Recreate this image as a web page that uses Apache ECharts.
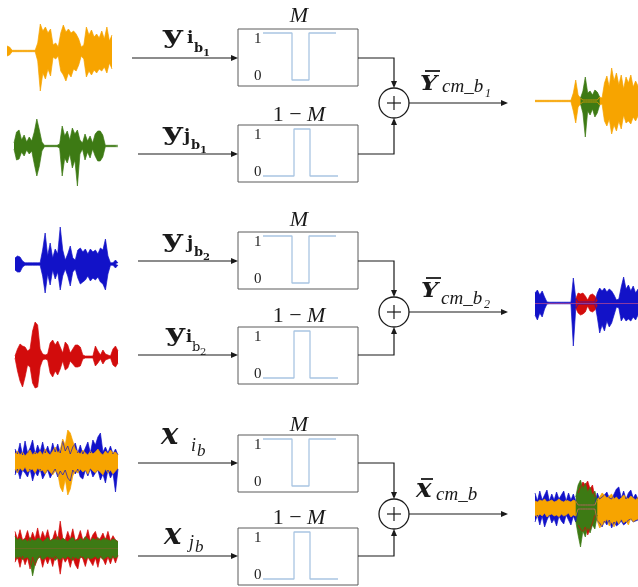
<!DOCTYPE html>
<html>
<head>
<meta charset="utf-8">
<script src="https://cdn.jsdelivr.net/npm/echarts@6/dist/echarts.min.js"></script>
<style>
  html, body { margin: 0; padding: 0; background: #fff; }
  #chart { width: 638px; height: 587px; }
</style>
</head>
<body>
<div id="chart"></div>
<script>
// input waveforms: upper / lower envelope (amplitude in px)
const orangeTop1 = [5,4,0.7,0.7,0.7,0.7,0.7,0.7,0.7,0.7,0.7,0.7,8,27,20,24,18,22,6,8,4,18,26,19,22,18,20,17,12,4,6,24,16,21,14,17,13,20,12,24,10,16];
const orangeBot1 = [-5,-4,-0.7,-0.7,-0.7,-0.7,-0.7,-0.7,-0.7,-0.7,-0.7,-0.7,-10,-40,-22,-28,-18,-25,-6,-8,-5,-20,-24,-30,-22,-26,-18,-20,-14,-5,-8,-26,-20,-24,-19,-22,-18,-20,-16,-22,-12,-18];
const greenTop1 = [3,14,16,6,11,4,9,5,14,27,16,4,0.7,0.7,0.7,0.7,0.7,0.7,2,20,10,15,6,18,12,16,6,3,12,5,10,3,12,15,15,11,0.7,0.7,0.7,0.7,0.7,0.7];
const greenBot1 = [-3,-14,-13,-6,-10,-4,-8,-5,-18,-30,-20,-5,-0.7,-0.7,-0.7,-0.7,-0.7,-0.7,-2,-30,-12,-17,-8,-22,-14,-40,-8,-3,-14,-6,-12,-3,-10,-15,-15,-11,-0.7,-0.7,-0.7,-0.7,-0.7,-0.7];
const blueTop2 = [6,8,7,3,1.2,1.2,1.2,1.2,1.2,1.2,1.2,14,31,8,21,6,15,10,37,14,4,10,18,6,4,14,16,12,15,10,15,12,14,10,16,14,25,8,1.2,1.2,4,1];
const blueBot2 = [-6,-8,-8,-3,-1.2,-1.2,-1.2,-1.2,-1.2,-1.2,-1.2,-12,-29,-10,-21,-6,-15,-8,-26,-12,-5,-12,-22,-8,-5,-14,-20,-18,-16,-12,-17,-14,-16,-13,-18,-20,-26,-10,-1.2,-1.2,-4,-1];
const redTop2 = [1,8,13,11,10,6,8,26,35,32,8,3,2,3,14,17,12,16,10,4,15,12,4,8,12,12,10,2,1,1,1,1,11,6,2,7,3,2,1,8,11,6];
const redBot2 = [-1,-14,-24,-30,-20,-8,-10,-26,-31,-30,-10,-3,-2,-3,-16,-20,-14,-18,-12,-4,-13,-11,-4,-7,-10,-10,-9,-2,-1,-1,-1,-1,-9,-6,-2,-7,-3,-2,-1,-8,-10,-6];
const mixBlueTop3 = [12,7,18,6,20,8,13,21,7,16,9,19,8,15,7,18,9,17,8,20,10,15,7,14,18,8,16,7,13,19,8,21,16,24,28,9,14,8,15,7,12,6];
const mixBlueBot3 = [-14,-8,-18,-9,-12,-16,-8,-20,-11,-15,-8,-18,-13,-9,-17,-12,-8,-16,-10,-14,-9,-17,-20,-9,-13,-8,-16,-18,-9,-15,-8,-16,-12,-9,-19,-13,-22,-9,-17,-12,-31,-8];
const mixOrangeTop3 = [7,10,6,9,5,8,11,6,9,7,10,6,12,8,6,10,14,8,11,22,16,31,28,20,12,9,7,11,8,6,10,7,9,12,8,6,10,7,11,8,9,6];
const mixOrangeBot3 = [-8,-12,-7,-10,-6,-11,-9,-8,-12,-7,-10,-9,-13,-8,-11,-14,-10,-12,-26,-31,-18,-34,-28,-15,-10,-12,-8,-11,-9,-13,-7,-10,-12,-9,-11,-14,-8,-12,-9,-13,-10,-7];
const mixRedTop3 = [20,11,22,10,12,21,9,19,11,24,10,20,12,22,9,11,21,10,32,12,10,20,11,23,9,12,21,10,11,22,9,16,20,10,12,18,10,20,9,15,10,8];
const mixRedBot3 = [-16,-10,-22,-9,-19,-11,-24,-10,-20,-12,-9,-22,-11,-18,-10,-21,-9,-12,-30,-10,-16,-11,-22,-10,-19,-24,-9,-12,-21,-10,-15,-20,-11,-22,-9,-12,-19,-10,-18,-9,-17,-8];
const mixGreenTop3 = [14,10,12,9,11,8,13,10,9,12,11,8,10,13,9,11,10,14,9,12,10,8,11,13,10,9,12,10,14,11,9,12,10,13,9,11,12,10,9,11,10,8];
const mixGreenBot3 = [-10,-12,-9,-13,-11,-10,-14,-32,-18,-12,-10,-13,-11,-9,-12,-10,-14,-11,-13,-10,-12,-9,-11,-14,-10,-12,-11,-9,-13,-10,-12,-11,-9,-12,-10,-13,-11,-9,-12,-10,-11,-9];

// mixed outputs
const outOrangeTop1 = [0.7,0.7,0.7,0.7,0.7,0.7,0.7,0.7,0.7,0.7,0.7,0.7,0.7,0.7,0.7,0.7,8,21,6,3,1,1,1,1,1,1,1,4,3,18,25,14,33,20,28,16,26,12,24,18,26,14,20,15];
const outOrangeBot1 = [-0.7,-0.7,-0.7,-0.7,-0.7,-0.7,-0.7,-0.7,-0.7,-0.7,-0.7,-0.7,-0.7,-0.7,-0.7,-0.7,-10,-22,-6,-3,-1,-1,-1,-1,-1,-1,-1,-4,-3,-20,-25,-18,-33,-24,-30,-20,-28,-14,-22,-20,-23,-16,-20,-15];
const outGreenTop1 = [null,null,null,null,null,null,null,null,null,null,null,null,null,null,null,null,null,null,null,3,10,24,8,10,6,11,9,4,null,null,null,null,null,null,null,null,null,null,null,null,null,null,null,null];
const outGreenBot1 = [null,null,null,null,null,null,null,null,null,null,null,null,null,null,null,null,null,null,null,-3,-12,-36,-10,-14,-8,-16,-12,-4,null,null,null,null,null,null,null,null,null,null,null,null,null,null,null,null];
const outBlueTop2 = [10,13,8,12,6,1,0.8,0.8,0.8,0.8,0.8,0.8,0.8,0.8,0.8,0.8,25,5,1,1,1,1,1,1,1,1,10,15,12,15,11,14,12,8,3,4,16,26,14,18,12,17,10,14];
const outBlueBot2 = [-12,-17,-10,-14,-6,-1,-0.8,-0.8,-0.8,-0.8,-0.8,-0.8,-0.8,-0.8,-0.8,-0.8,-43,-6,-1,-1,-1,-1,-1,-1,-1,-1,-14,-30,-22,-28,-18,-24,-20,-12,-4,-5,-18,-14,-18,-16,-18,-14,-17,-12];
const outRedTop2 = [null,null,null,null,null,null,null,null,null,null,null,null,null,null,null,null,null,4,10,9,10,7,3,8,9,7,2,null,null,null,null,null,null,null,null,null,null,null,null,null,null,null,null,null];
const outRedBot2 = [null,null,null,null,null,null,null,null,null,null,null,null,null,null,null,null,null,-5,-10,-12,-11,-9,-3,-8,-9,-7,-2,null,null,null,null,null,null,null,null,null,null,null,null,null,null,null,null,null];
const outBlueTop3 = [14,6,16,7,12,17,6,13,7,15,8,12,16,6,14,7,13,6,2,2,2,2,2,2,2,2,14,8,10,12,15,9,8,13,18,20,9,16,8,14,17,9,13,8];
const outBlueBot3 = [-15,-8,-18,-9,-20,-13,-8,-16,-12,-19,-9,-14,-17,-8,-13,-18,-9,-15,-2,-2,-2,-2,-2,-2,-2,-2,-14,-16,-20,-14,-18,-13,-21,-15,-19,-17,-14,-18,-16,-13,-12,-15,-14,-13];
const outOrangeTop3 = [6,5,7,6,8,5,6,7,5,6,8,6,5,7,6,5,7,6,2,2,2,2,2,2,2,2,8,10,14,12,9,11,13,8,10,7,9,12,10,8,11,9,7,10];
const outOrangeBot3 = [-8,-10,-7,-9,-6,-10,-8,-7,-9,-8,-10,-7,-9,-8,-6,-10,-8,-9,-2,-2,-2,-2,-2,-2,-2,-2,-14,-21,-18,-16,-12,-19,-15,-20,-13,-17,-12,-16,-14,-18,-11,-15,-13,-12];
const outRedTop3 = [null,null,null,null,null,null,null,null,null,null,null,null,null,null,null,null,null,null,14,20,25,22,26,18,22,10,null,null,null,null,null,null,null,null,null,null,null,null,null,null,null,null,null,null];
const outRedBot3 = [null,null,null,null,null,null,null,null,null,null,null,null,null,null,null,null,null,null,-18,-22,-25,-20,-28,-22,-16,-8,null,null,null,null,null,null,null,null,null,null,null,null,null,null,null,null,null,null];
const outGreenTop3 = [null,null,null,null,null,null,null,null,null,null,null,null,null,null,null,null,null,10,22,27,18,24,15,20,12,16,6,null,null,null,null,null,null,null,null,null,null,null,null,null,null,null,null,null];
const outGreenBot3 = [null,null,null,null,null,null,null,null,null,null,null,null,null,null,null,null,null,-14,-28,-40,-24,-30,-20,-26,-18,-22,-8,null,null,null,null,null,null,null,null,null,null,null,null,null,null,null,null,null];

// masks (x in box units 0..120, level 0/1)
const maskX = [25, 54, 54, 71, 71, 98];
const maskM = [1, 1, 0, 0, 1, 1];
const maskInvX = [25, 56, 56, 72, 72, 100];
const maskInv = [0, 0, 1, 1, 0, 0];
const maskTicks = [0, 1];

const ORANGE = '#f7a400', GREEN = '#3d7a14', BLUE = '#1212c8', RED = '#d20c0c';
const MASKC = '#a9c5e2', INK = '#1a1a1a';

const chart = echarts.init(document.getElementById('chart'), null, { renderer: 'canvas' });

const grid = [], xAxis = [], yAxis = [], series = [];

function waveGrid(x0, x1, cy, layers) {
    const g = grid.length;
    grid.push({ left: x0, top: cy - 45, width: x1 - x0, height: 90 });
    xAxis.push({ type: 'category', gridIndex: g, show: false, boundaryGap: false,
        data: layers[0][0].map((_, i) => i) });
    yAxis.push({ type: 'value', gridIndex: g, show: false, min: -45, max: 45 });
    layers.forEach(([top, bot, color, extra]) => {
        [top, bot].forEach(d => {
            series.push(Object.assign({
                type: 'line', xAxisIndex: g, yAxisIndex: g, data: d, symbol: 'none',
                silent: true, lineStyle: { color: color, width: 0.7 },
                areaStyle: { color: color, opacity: 1 }
            }, extra || {}));
        });
    });
}

function maskGrid(top, xs, ys) {
    const g = grid.length;
    grid.push({ left: 238, top: top, width: 120, height: 57, show: true,
        borderColor: '#5a5a5a', borderWidth: 1, backgroundColor: 'transparent' });
    xAxis.push({ type: 'value', gridIndex: g, show: false, min: 0, max: 120 });
    yAxis.push({ type: 'value', gridIndex: g, min: -0.128, max: 1.085,
        axisLine: { show: false }, axisTick: { show: false }, splitLine: { show: false },
        axisLabel: { show: true, inside: true, margin: 16, customValues: maskTicks,
            formatter: v => (v === 1 ? '{a|1}' : '{b|0}'),
            rich: {
                a: { fontFamily: 'Liberation Serif', fontSize: 15, color: '#222', padding: [13, 0, 0, 0] },
                b: { fontFamily: 'Liberation Serif', fontSize: 15, color: '#222', padding: [0, 0, 8, 0] }
            } } });
    series.push({ type: 'line', xAxisIndex: g, yAxisIndex: g, symbol: 'none', silent: true,
        data: xs.map((x, i) => [x, ys[i]]), lineStyle: { color: MASKC, width: 1.3 } });
}

// input waveforms
waveGrid(7, 112, 51, [[orangeTop1, orangeBot1, ORANGE]]);
waveGrid(14, 118, 146, [[greenTop1, greenBot1, GREEN]]);
waveGrid(15, 118, 264, [[blueTop2, blueBot2, BLUE]]);
waveGrid(15, 118, 357, [[redTop2, redBot2, RED]]);
waveGrid(15, 118, 461, [[mixBlueTop3, mixBlueBot3, BLUE], [mixOrangeTop3, mixOrangeBot3, ORANGE]]);
waveGrid(15, 118, 555, [[mixRedTop3, mixRedBot3, RED], [mixGreenTop3, mixGreenBot3, GREEN]]);
// outputs
waveGrid(535, 645, 101, [[outOrangeTop1, outOrangeBot1, ORANGE], [outGreenTop1, outGreenBot1, GREEN]]);
waveGrid(535, 645, 303, [[outBlueTop2, outBlueBot2, BLUE], [outRedTop2, outRedBot2, RED,
    { markLine: { silent: true, symbol: 'none', label: { show: false },
        lineStyle: { color: '#8a3aa0', width: 1, type: 'solid' }, data: [{ yAxis: 0 }] } }]]);
waveGrid(535, 645, 507, [[outBlueTop3, outBlueBot3, BLUE], [outOrangeTop3, outOrangeBot3, ORANGE],
    [outRedTop3, outRedBot3, RED], [outGreenTop3, outGreenBot3, GREEN]]);

// mask boxes
maskGrid(29, maskX, maskM);
maskGrid(125, maskInvX, maskInv);
maskGrid(232, maskX, maskM);
maskGrid(327, maskInvX, maskInv);
maskGrid(435, maskX, maskM);
maskGrid(528, maskInvX, maskInv);

// diagram: arrows, summing nodes, labels
const els = [];
const stroke = { stroke: INK, lineWidth: 1.2, fill: null };
function line(x1, y1, x2, y2, w) { els.push({ type: 'line', shape: { x1, y1, x2, y2 }, style: Object.assign({}, stroke, w ? { lineWidth: w } : {}), silent: true }); }
function poly(pts) { els.push({ type: 'polyline', shape: { points: pts }, style: stroke, silent: true }); }
function head(x, y, dir) {
    const p = dir === 'r' ? [[x, y], [x - 7, y - 3], [x - 7, y + 3]]
        : dir === 'd' ? [[x, y], [x - 3, y - 7], [x + 3, y - 7]]
        : [[x, y], [x - 3, y + 7], [x + 3, y + 7]];
    els.push({ type: 'polygon', shape: { points: p }, style: { fill: INK }, silent: true });
}
function txt(s, x, base, size, o) {
    o = o || {};
    els.push({ type: 'text', x: x, y: base - 0.3 * size, scaleX: o.sx || 1, silent: true, style: {
        text: s, fontSize: size, fontFamily: o.family || 'DejaVu Serif',
        fontWeight: o.weight || 'normal', fontStyle: o.style || 'normal',
        fill: INK, align: o.align || 'left', verticalAlign: 'middle', rich: o.rich } });
}

const rows = [
    { ya: 58, yb: 154, cy: 103, xa: 132, xb: 138 },
    { ya: 261, yb: 355, cy: 312, xa: 138, xb: 138 },
    { ya: 463, yb: 556, cy: 514, xa: 138, xb: 138 }
];
rows.forEach(r => {
    line(r.xa, r.ya, 236, r.ya); head(238, r.ya, 'r');
    line(r.xb, r.yb, 236, r.yb); head(238, r.yb, 'r');
    poly([[358, r.ya], [394, r.ya], [394, r.cy - 17]]); head(394, r.cy - 15, 'd');
    poly([[358, r.yb], [394, r.yb], [394, r.cy + 17]]); head(394, r.cy + 15, 'u');
    els.push({ type: 'circle', shape: { cx: 394, cy: r.cy, r: 15 }, style: { stroke: INK, lineWidth: 1.3, fill: '#fff' }, silent: true });
    line(387, r.cy, 401, r.cy); line(394, r.cy - 7, 394, r.cy + 7);
    line(409, r.cy, 506, r.cy); head(508, r.cy, 'r');
});

const B = { weight: 'bold' };
const BY = { weight: 'bold', sx: 1.35 };
const BI = { weight: 'bold', style: 'italic' };
const I = { family: 'Liberation Serif', style: 'italic' };
// y_{i_{b_1}} , y_{j_{b_1}}
txt('y', 163, 44, 25, BY); txt('i', 187, 44, 17, B); txt('b', 194, 53, 13, B); txt('1', 203, 56, 10, B);
txt('y', 163, 141, 25, BY); txt('j', 184, 142, 17, B); txt('b', 191, 150, 13, B); txt('1', 200, 153, 10, B);
// y_{j_{b_2}} , y_{i_{b_2}}
txt('y', 163, 248, 25, BY); txt('j', 187, 249, 17, B); txt('b', 194, 257, 13, B); txt('2', 203, 260, 10, B);
txt('y', 166, 342, 24, BY); txt('i', 186, 343, 16, B); txt('b', 192, 352, 13); txt('2', 200, 355, 10);
// x_{i_b} , x_{j_b}
txt('x', 161, 445, 29, BI); txt('i', 191, 452, 18, I); txt('b', 197, 457, 17, I);
txt('x', 164, 545, 29, BI); txt('j', 189, 549, 18, I); txt('b', 195, 553, 17, I);

// mask titles
const maskTitle = { family: 'Liberation Serif', align: 'center',
    rich: { n: { fontFamily: 'Liberation Serif', fontSize: 22, fill: INK },
            m: { fontFamily: 'Liberation Serif', fontSize: 22, fontStyle: 'italic', fill: INK } } };
[[23, '{m|M}'], [122, '{n|1 − }{m|M}'], [227, '{m|M}'], [323, '{n|1 − }{m|M}'], [432, '{m|M}'], [525, '{n|1 − }{m|M}']]
    .forEach(([b, s]) => txt(s, 299, b, 22, maskTitle));

// outputs
txt('Y', 420, 91, 20, { weight: 'bold', style: 'italic', sx: 1.2 }); line(425, 71, 440, 71, 1.8);
txt('cm_b', 442, 93, 19, I); txt('1', 485, 97, 12, I);
txt('Y', 421, 298, 20, { weight: 'bold', style: 'italic', sx: 1.2 }); line(426, 278, 441, 278, 1.8);
txt('cm_b', 441, 305, 19, I); txt('2', 484, 308, 12, I);
txt('x', 416, 498, 26, BI); line(421, 479, 433, 479, 1.8); txt('cm_b', 436, 501, 19, I);

chart.setOption({
    animation: false,
    backgroundColor: '#fff',
    grid, xAxis, yAxis, series,
    graphic: { elements: els }
});
</script>
</body>
</html>
